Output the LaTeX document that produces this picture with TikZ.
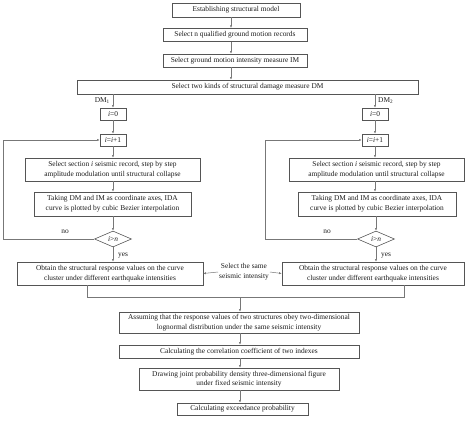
\documentclass[tikz,border=0pt]{standalone}
\usepackage{fontspec}
\setmainfont{Liberation Serif}
\usetikzlibrary{arrows.meta,shapes.geometric}
\definecolor{boxc}{HTML}{555555}
\definecolor{linec}{HTML}{777777}
\definecolor{txtc}{HTML}{1A1A1A}
\newcommand{\fs}{\fontsize{7.4}{9.6}\selectfont}
\begin{document}
\begin{tikzpicture}[x=1pt,y=-1pt,
  box/.style={draw=boxc, line width=0.6pt, inner sep=0pt, align=center, font=\fs, text=txtc},
  dia/.style={diamond, draw=boxc, line width=0.6pt, inner sep=0pt, font=\fs, text=txtc},
  lbl/.style={font=\fs, text=txtc, inner sep=1pt},
  arr/.style={draw=linec, line width=0.5pt, -{Latex[length=2.6pt,width=2.2pt]}},
  ln/.style={draw=linec, line width=0.5pt}]
\useasboundingbox (0,0) rectangle (474,423);
% top
\node[box, minimum width=128, minimum height=14] (b1) at (236,10) {Establishing structural model};
\node[box, minimum width=144, minimum height=13.5] (b2) at (235,35) {Select n qualified ground motion records};
\node[box, minimum width=144, minimum height=13] (b3) at (235,60.5) {Select ground motion intensity measure IM};
\node[box, minimum width=341, minimum height=14] (b4) at (247.5,87) {Select two kinds of structural damage measure DM};
\coordinate (tx) at (231,0);
\draw[arr] (b1.south -| tx) -- (b2.north -| tx);
\draw[arr] (b2.south -| tx) -- (b3.north -| tx);
\draw[arr] (b3.south -| tx) -- (b4.north -| tx);
% left column
\node[box, minimum width=26, minimum height=12] (L0) at (113,114) {\textit{i}=0};
\node[box, minimum width=26, minimum height=12] (L1) at (113,140) {\textit{i}=\textit{i}+1};
\node[box, minimum width=175, minimum height=23] (L2) at (112.5,169.5) {Select section \textit{i} seismic record, step by step\\amplitude modulation until structural collapse};
\node[box, minimum width=157, minimum height=24] (L3) at (112.5,204) {Taking DM and IM as coordinate axes, IDA\\curve is plotted by cubic Bezier interpolation};
\node[dia, minimum width=37, minimum height=16] (Ld) at (113,239) {\textit{i}>\textit{n}};
\node[box, minimum width=186, minimum height=23] (L4) at (110,273.5) {Obtain the structural response values on the curve\\cluster under different earthquake intensities};
% right column
\node[box, minimum width=26, minimum height=12] (R0) at (375,114) {\textit{i}=0};
\node[box, minimum width=26, minimum height=12] (R1) at (375,140) {\textit{i}=\textit{i}+1};
\node[box, minimum width=175, minimum height=23] (R2) at (376.5,169.5) {Select section \textit{i} seismic record, step by step\\amplitude modulation until structural collapse};
\node[box, minimum width=158, minimum height=24] (R3) at (377,204) {Taking DM and IM as coordinate axes, IDA\\curve is plotted by cubic Bezier interpolation};
\node[dia, minimum width=37, minimum height=16] (Rd) at (376,239) {\textit{i}>\textit{n}};
\node[box, minimum width=182, minimum height=23] (R4) at (373,273.5) {Obtain the structural response values on the curve\\cluster under different earthquake intensities};
% labels
\node[lbl, anchor=east] (dm1) at (111,101) {DM\textsubscript{1}};
\node[lbl, anchor=west] (dm2) at (377,101) {DM\textsubscript{2}};
\node[lbl] (no1) at (65,232) {no};
\node[lbl] (no2) at (327,232) {no};
\node[lbl] (yes1) at (123,256) {yes};
\node[lbl] (yes2) at (386,256) {yes};
\node[lbl, align=center] (mid) at (244,272) {Select the same\\seismic intensity};
% left connectors
\draw[arr] (b4.south -| L0.north) -- (L0.north);
\draw[arr] (L0) -- (L1);
\draw[arr] (L1.south) -- (L2.north -| L1.south);
\draw[arr] (L2.south -| L1.south) -- (L3.north -| L1.south);
\draw[arr] (L3.south -| Ld.north) -- (Ld.north);
\draw[arr] (Ld.south) -- (L4.north -| Ld.south);
\coordinate (Lfb) at (3,239);
\draw[arr] (Ld.west) -- (Lfb) |- (L1.west);
% right connectors
\draw[arr] (b4.south -| R0.north) -- (R0.north);
\draw[arr] (R0) -- (R1);
\draw[arr] (R1.south) -- (R2.north -| R1.south);
\draw[arr] (R2.south -| R1.south) -- (R3.north -| R1.south);
\draw[arr] (R3.south -| Rd.north) -- (Rd.north);
\draw[arr] (Rd.south) -- (R4.north -| Rd.south);
\coordinate (Rfb) at (265,239);
\draw[arr] (Rd.west) -- (Rfb) |- (R1.west);
% middle
\draw[arr] (mid.west) -- (L4.east);
\draw[arr] (mid.east) -- (R4.west);
% bottom
\node[box, minimum width=240, minimum height=21] (A) at (239,322.5) {Assuming that the response values of two structures obey two-dimensional\\lognormal distribution under the same seismic intensity};
\node[box, minimum width=240, minimum height=13] (C) at (239,351.5) {Calculating the correlation coefficient of two indexes};
\node[box, minimum width=200, minimum height=22] (D) at (239,379) {Drawing joint probability density three-dimensional figure\\under fixed seismic intensity};
\node[box, minimum width=131, minimum height=12] (E) at (242.5,409) {Calculating exceedance probability};
\coordinate (jl) at (87,297);
\coordinate (jr) at (404,297);
\coordinate (jm) at (240,297);
\draw[ln] (L4.south -| jl) -- (jl) -- (jr) -- (R4.south -| jr);
\draw[arr] (jm) -- (A.north -| jm);
\draw[arr] (A.south -| jm) -- (C.north -| jm);
\draw[arr] (C.south -| jm) -- (D.north -| jm);
\draw[arr] (D.south -| jm) -- (E.north -| jm);
\end{tikzpicture}
\end{document}
